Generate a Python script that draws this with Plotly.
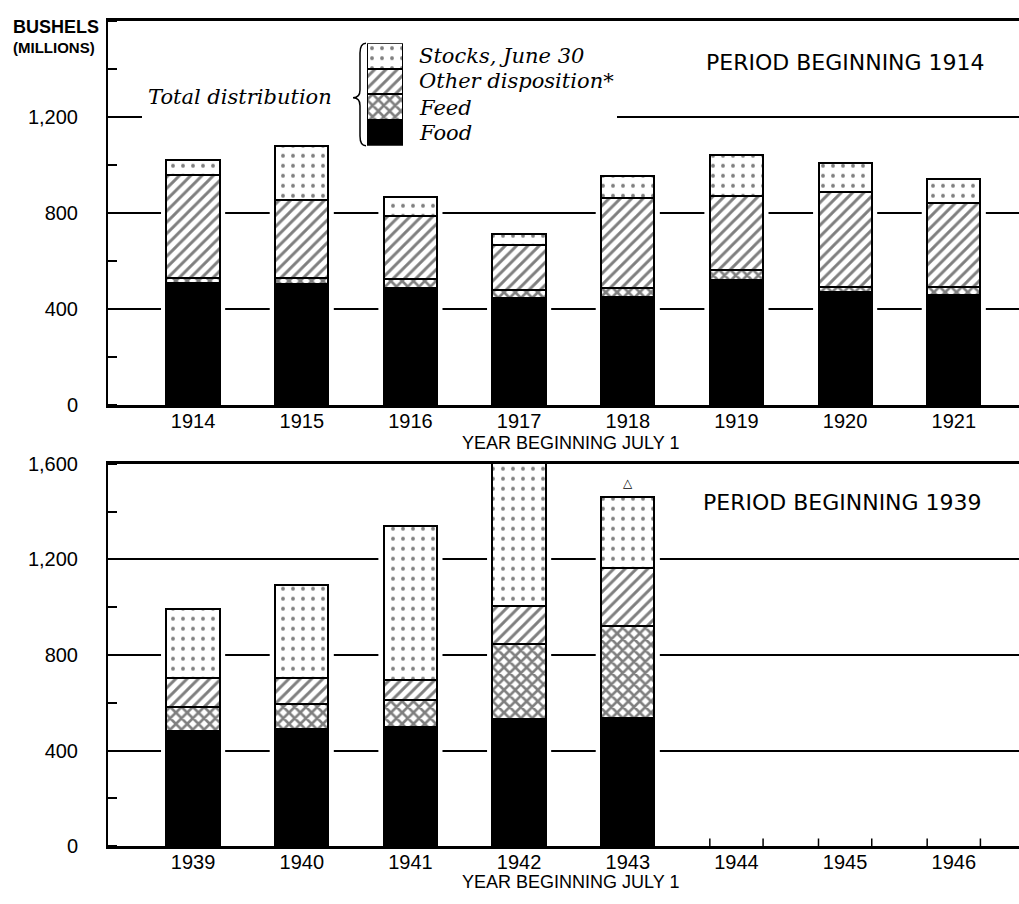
import plotly.graph_objects as go

# ---------------- data (millions of bushels) ----------------
years_a = ["1914", "1915", "1916", "1917", "1918", "1919", "1920", "1921"]
food_a = [508, 505, 490, 448, 450, 524, 474, 461]
feed_a = [23, 26, 36, 32, 38, 38, 18, 31]
other_a = [429, 323, 263, 187, 377, 310, 398, 352]
stocks_a = [60, 227, 79, 45, 88, 172, 121, 98]

years_b = ["1939", "1940", "1941", "1942", "1943", "1944", "1945", "1946"]
food_b = [482, 491, 498, 534, 536]
feed_b = [102, 107, 113, 312, 387]
other_b = [120, 106, 86, 161, 241]
stocks_b = [290, 389, 642, 608, 297]

series_names = ["Food", "Feed", "Other disposition*", "Stocks, June 30"]
yticks_a = [0, 400, 800, 1200]
yticks_b = [0, 400, 800, 1200, 1600]
footnote_year = "1943"

W, H = 1019, 904
BAR_W = 0.49
GAP = 0.05  # white break in gridlines beside each bar
YMAX = 1600

# pixel frame of the two panels
X0, X1 = 108, 1019
TOP_A, BOT_A = 10, 404
TOP_B, BOT_B = 464, 856
xrange_ = [-0.783, 7.6]


def px(x):
    return x / W


def py(y):
    return 1 - y / H


styles = {
    "Food": dict(color="black", pattern=None),
    "Feed": dict(color="white", pattern=dict(shape="x", fgcolor="black", bgcolor="white",
                                             size=8, solidity=0.55, fillmode="overlay")),
    "Other disposition*": dict(color="white", pattern=dict(shape="/", fgcolor="black", bgcolor="white",
                                                           size=8, solidity=0.36, fillmode="overlay")),
    "Stocks, June 30": dict(color="white", pattern=dict(shape=".", fgcolor="black", bgcolor="white",
                                                        size=10, solidity=0.12, fillmode="overlay")),
}

fig = go.Figure()


def add_stack(values_list, xa, ya):
    for name, vals in zip(series_names, values_list):
        st = styles[name]
        marker = dict(color=st["color"], line=dict(color="black", width=2))
        if st["pattern"]:
            marker["pattern"] = st["pattern"]
        fig.add_trace(go.Bar(x=list(range(len(vals))), y=vals, width=BAR_W, name=name,
                             marker=marker, xaxis=xa, yaxis=ya, showlegend=False,
                             hoverinfo="y+name"))
    # white breaks in the gridlines on either side of each bar
    totals = [sum(v) for v in zip(*values_list)]
    for i, t in enumerate(totals):
        fig.add_shape(type="rect", xref=xa, yref=ya, x0=i - BAR_W / 2 - GAP,
                      x1=i + BAR_W / 2 + GAP, y0=0, y1=t, fillcolor="white",
                      line=dict(width=0), layer="between")


add_stack([food_a, feed_a, other_a, stocks_a], "x", "y")
add_stack([food_b, feed_b, other_b, stocks_b], "x2", "y2")

# small edge ticks for years without bars (bottom panel)
tx, ty = [], []
for i in range(len(food_b), len(years_b)):
    for e in (i - BAR_W / 2, i + BAR_W / 2):
        tx += [e, e, None]
        ty += [0, 32, None]
fig.add_trace(go.Scatter(x=tx, y=ty, mode="lines", line=dict(color="black", width=1.5),
                         xaxis="x2", yaxis="y2", showlegend=False, hoverinfo="skip"))

# legend swatch stack
for name in series_names:
    st = styles[name]
    marker = dict(color=st["color"], line=dict(color="black", width=2))
    if st["pattern"]:
        marker["pattern"] = st["pattern"]
    fig.add_trace(go.Bar(x=[0], y=[1], width=1, marker=marker, xaxis="x3", yaxis="y3",
                         showlegend=False, hoverinfo="skip"))

tickfont = dict(family="Liberation Sans, Arial, sans-serif", size=20, color="black")
xdom = [px(X0), px(X1)]


def xaxis_cfg(years, anchor):
    return dict(domain=xdom, range=xrange_, anchor=anchor, tickmode="array",
                tickvals=list(range(len(years))), ticktext=years, ticks="",
                showline=True, linecolor="black", linewidth=2.5, mirror=True,
                showgrid=False, zeroline=False, tickfont=tickfont, ticklabelstandoff=-4,
                fixedrange=True)


def yaxis_cfg(dom, ticks, anchor):
    return dict(domain=dom, range=[0, YMAX], anchor=anchor, tickmode="array",
                tickvals=ticks, ticktext=[f"{t:,}" for t in ticks], ticks="",
                showline=True, linecolor="black", linewidth=2,
                showgrid=True, gridcolor="black", gridwidth=1.5, zeroline=False,
                tickfont=tickfont, ticklabelstandoff=24,
                minor=dict(dtick=200, tick0=0, ticks="inside", ticklen=9,
                           tickcolor="black", tickwidth=1.5, showgrid=False))


fig.update_layout(
    width=W, height=H, margin=dict(l=0, r=0, t=0, b=0),
    paper_bgcolor="white", plot_bgcolor="white", barmode="stack", bargap=0,
    xaxis=xaxis_cfg(years_a, "y"),
    yaxis=yaxis_cfg([py(BOT_A), py(TOP_A)], yticks_a, "x"),
    xaxis2=xaxis_cfg(years_b, "y2"),
    yaxis2=yaxis_cfg([py(BOT_B), py(TOP_B)], yticks_b, "x2"),
    xaxis3=dict(domain=[px(367), px(403)], range=[-0.5, 0.5], visible=False, anchor="y3",
                fixedrange=True),
    yaxis3=dict(domain=[py(138), py(33)], range=[0, 4], visible=False, anchor="x3",
                fixedrange=True),
)


def to_x(x):  # pixel -> x data value of the top panel
    return xrange_[0] + (x - X0) / (X1 - X0) * (xrange_[1] - xrange_[0])


def to_y(y):  # pixel -> y data value of the top panel
    return (BOT_A - y) / (BOT_A - TOP_A) * YMAX


# white mask that breaks the 1,200 gridline behind the key
fig.add_shape(type="rect", xref="x", yref="y", x0=to_x(142), x1=to_x(617),
              y0=to_y(118), y1=to_y(98), fillcolor="white", line=dict(width=0),
              layer="between")

# brace of the key
bx, bt, bb, bm = 362, 33, 138, 89
path = (f"M {px(bx+4)} {py(bt)} Q {px(bx-2)} {py(bt)} {px(bx-2)} {py(bt+10)} "
        f"L {px(bx-2)} {py(bm-8)} Q {px(bx-2)} {py(bm)} {px(bx-9)} {py(bm)} "
        f"Q {px(bx-2)} {py(bm)} {px(bx-2)} {py(bm+8)} "
        f"L {px(bx-2)} {py(bb-10)} Q {px(bx-2)} {py(bb)} {px(bx+4)} {py(bb)}")
fig.add_shape(type="path", xref="paper", yref="paper", path=path,
              line=dict(color="black", width=1.5))

serif_it = dict(family="DejaVu Serif, serif", size=21, color="black", style="italic")
sans = "DejaVu Sans, Liberation Sans, sans-serif"

label_y = {"Stocks, June 30": 46, "Other disposition*": 72, "Feed": 99, "Food": 125}
for name in series_names:
    fig.add_annotation(text=name, xref="paper", yref="paper", x=px(417), y=py(label_y[name]),
                       xanchor="left", yanchor="middle", showarrow=False, font=serif_it)
fig.add_annotation(text="Total distribution", xref="paper", yref="paper", x=px(334), y=py(88),
                   xanchor="right", yanchor="middle", showarrow=False, font=serif_it)

fig.add_annotation(text="BUSHELS", xref="paper", yref="paper", x=px(56), y=py(16),
                   xanchor="center", yanchor="middle", showarrow=False,
                   font=dict(family="Liberation Sans, Arial, sans-serif", size=18, color="black",
                             weight="bold"))
fig.add_annotation(text="(MILLIONS)", xref="paper", yref="paper", x=px(54), y=py(37),
                   xanchor="center", yanchor="middle", showarrow=False,
                   font=dict(family="Liberation Sans, Arial, sans-serif", size=15, color="black",
                             weight="bold"))

fig.add_annotation(text="PERIOD BEGINNING 1914", xref="paper", yref="paper", x=px(845), y=py(53),
                   xanchor="center", yanchor="middle", showarrow=False,
                   font=dict(family=sans, size=22, color="black"))
fig.add_annotation(text="PERIOD BEGINNING 1939", xref="paper", yref="paper", x=px(842), y=py(504),
                   xanchor="center", yanchor="middle", showarrow=False,
                   font=dict(family=sans, size=22, color="black"))

for yy in (443, 893):
    fig.add_annotation(text="YEAR BEGINNING JULY 1", xref="paper", yref="paper", x=px(570),
                       y=py(yy), xanchor="center", yanchor="middle", showarrow=False,
                       font=dict(family="Liberation Sans, Arial, sans-serif", size=18,
                                 color="black"))

fi = years_b.index(footnote_year)
fig.add_annotation(text="△", xref="x2", yref="y2", x=fi,
                   y=food_b[fi] + feed_b[fi] + other_b[fi] + stocks_b[fi],
                   yshift=14, showarrow=False, font=dict(family=sans, size=12, color="black"))

fig.write_html("out.html", config={"displayModeBar": False},
               post_script="document.body.style.margin='0';document.body.style.overflow='hidden';")
